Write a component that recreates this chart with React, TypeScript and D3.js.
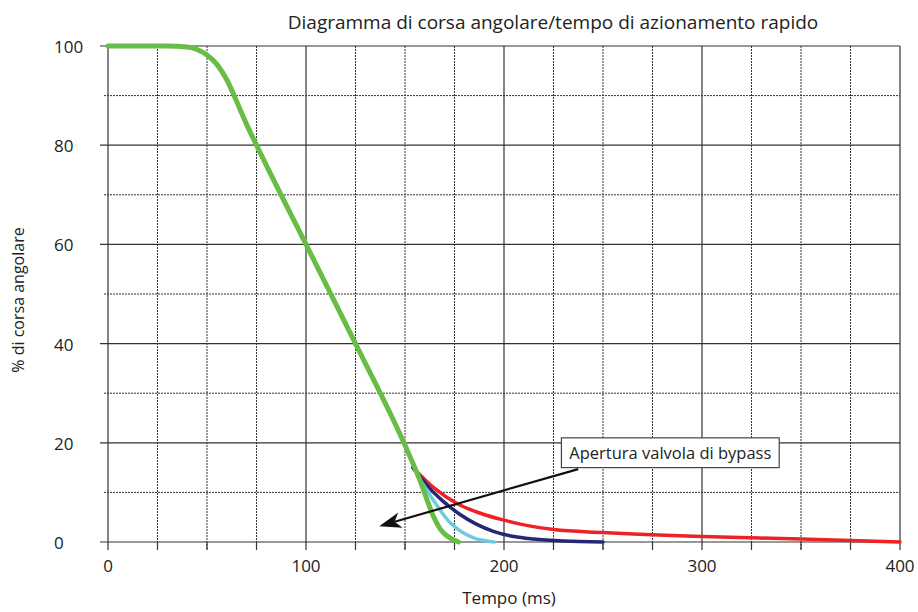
import * as d3 from 'd3';

// Time axis ticks (ms) and % travel ticks
const xMajorTicks = [0, 100, 200, 300, 400];
const xMinorTicks = [25, 50, 75, 125, 150, 175, 225, 250, 275, 325, 350, 375];
const yMajorTicks = [0, 20, 40, 60, 80, 100];
const yMinorTicks = [10, 30, 50, 70, 90];

// Curves: [time ms, % angular travel]
const greenCurve: [number, number][] = [
  [0, 100], [30, 100], [40, 99.8], [45, 99.3], [50, 98.2], [55, 96.3],
  [60, 93.2], [65, 88.8], [70, 84.2], [75, 80], [100, 60], [125, 40], [150, 19.5],
  [158, 12], [164, 5.5], [168, 2.5], [172, 1], [177, 0],
];
const redCurve: [number, number][] = [
  [154, 15], [165, 10.8], [176, 7.8], [188, 5.8], [200, 4.4], [212, 3.3],
  [225, 2.5], [250, 1.9], [300, 1.1], [350, 0.6], [400, 0],
];
const navyCurve: [number, number][] = [
  [154, 15], [162, 11], [169, 8.3], [178, 5.5], [186, 3.6], [195, 2.1],
  [205, 1.1], [215, 0.6], [230, 0.2], [250, 0],
];
const cyanCurve: [number, number][] = [
  [156, 13.5], [161, 10.5], [165, 8], [168, 6.3], [172, 4.2], [176, 2.8],
  [180, 1.7], [185, 0.8], [190, 0.3], [195, 0],
];

// Annotation, in data units
const noteText = 'Apertura valvola di bypass';
const noteBox = { x0: 229, x1: 339, y0: 21, y1: 15 };
const arrowFrom: [number, number] = [237.5, 14.7];
const arrowTo: [number, number] = [137, 3.2];

const width = 918;
const height = 612;
const margin = { top: 46, right: 18, bottom: 70, left: 108 };
const font = '"Open Sans", sans-serif';

export default function App() {
  const x = d3.scaleLinear().domain([0, 400]).range([margin.left, width - margin.right]);
  const y = d3.scaleLinear().domain([0, 100]).range([height - margin.bottom, margin.top]);
  const line = d3
    .line<[number, number]>()
    .x((d) => x(d[0]))
    .y((d) => y(d[1]))
    .curve(d3.curveMonotoneX);

  const x0 = x(0), x1 = x(400), y0 = y(0), y1 = y(100);
  const gridColor = '#333';

  // arrow head geometry
  const ax = x(arrowTo[0]), ay = y(arrowTo[1]);
  const bx = x(arrowFrom[0]), by = y(arrowFrom[1]);
  const ang = Math.atan2(ay - by, ax - bx);
  const headLen = 22, headW = 8, notch = 16;
  const pt = (l: number, w: number) => [
    ax - l * Math.cos(ang) - w * Math.sin(ang),
    ay - l * Math.sin(ang) + w * Math.cos(ang),
  ];
  const p1 = pt(headLen, headW), p2 = pt(notch, 0), p3 = pt(headLen, -headW);
  const neck = pt(notch, 0);

  return (
    <svg width={width} height={height} style={{ position: 'absolute', left: 0, top: 0 }}>
      <rect width={width} height={height} fill="#fff" />

      {/* minor grid, dashed */}
      {xMinorTicks.map((t) => (
        <line key={'xm' + t} x1={x(t)} x2={x(t)} y1={y1} y2={y0 + 8}
          stroke={gridColor} strokeWidth={1} strokeDasharray="2 1" />
      ))}
      {yMinorTicks.map((t) => (
        <line key={'ym' + t} x1={x0 - 4} x2={x1} y1={y(t)} y2={y(t)}
          stroke={gridColor} strokeWidth={1} strokeDasharray="2 1" />
      ))}
      {/* major grid, solid */}
      {xMajorTicks.map((t) => (
        <line key={'xM' + t} x1={x(t)} x2={x(t)} y1={y1} y2={y0 + 8}
          stroke={gridColor} strokeWidth={1.2} />
      ))}
      {yMajorTicks.map((t) => (
        <line key={'yM' + t} x1={x0 - 8} x2={x1} y1={y(t)} y2={y(t)}
          stroke={gridColor} strokeWidth={1.2} />
      ))}
      {/* short solid tick stubs for minor ticks */}
      {xMinorTicks.map((t) => (
        <line key={'xs' + t} x1={x(t)} x2={x(t)} y1={y0} y2={y0 + 8} stroke={gridColor} strokeWidth={1.2} />
      ))}

      {/* tick labels */}
      {yMajorTicks.map((t) => (
        <text key={'yl' + t} x={54} y={y(t) + 7} fontFamily={font} fontSize={17} fill="#222">
          {t}
        </text>
      ))}
      {xMajorTicks.map((t) => (
        <text key={'xl' + t} x={x(t)} y={572} textAnchor="middle" fontFamily={font} fontSize={17} fill="#222">
          {t}
        </text>
      ))}

      {/* curves */}
      <path d={line(redCurve) ?? ''} fill="none" stroke="#ed2224" strokeWidth={3.5} strokeLinecap="round" />
      <path d={line(navyCurve) ?? ''} fill="none" stroke="#262676" strokeWidth={3.5} strokeLinecap="round" />
      <path d={line(cyanCurve) ?? ''} fill="none" stroke="#6ccbe0" strokeWidth={3.5} strokeLinecap="round" />
      <path d={line(greenCurve) ?? ''} fill="none" stroke="#67bd45" strokeWidth={5} strokeLinecap="round" />

      {/* annotation */}
      <line x1={bx} y1={by} x2={neck[0]} y2={neck[1]} stroke="#111" strokeWidth={2.2} />
      <path d={`M${ax},${ay}L${p1[0]},${p1[1]}L${p2[0]},${p2[1]}L${p3[0]},${p3[1]}Z`} fill="#111" />
      <rect x={x(noteBox.x0)} y={y(noteBox.y0)} width={x(noteBox.x1) - x(noteBox.x0)}
        height={y(noteBox.y1) - y(noteBox.y0)} fill="#fff" stroke="#444" strokeWidth={1.2} />
      <text x={(x(noteBox.x0) + x(noteBox.x1)) / 2} y={(y(noteBox.y0) + y(noteBox.y1)) / 2 + 6}
        textAnchor="middle" fontFamily={font} fontSize={16.5} fill="#222">
        {noteText}
      </text>

      {/* titles */}
      <text x={553} y={29} textAnchor="middle" fontFamily={font} fontSize={19} fill="#222">
        Diagramma di corsa angolare/tempo di azionamento rapido
      </text>
      <text x={509} y={604} textAnchor="middle" fontFamily={font} fontSize={17} fill="#222">
        Tempo (ms)
      </text>
      <text transform={`translate(24,${(y0 + y1) / 2 + 6}) rotate(-90)`} textAnchor="middle"
        fontFamily={font} fontSize={16} fill="#222">
        % di corsa angolare
      </text>
    </svg>
  );
}
